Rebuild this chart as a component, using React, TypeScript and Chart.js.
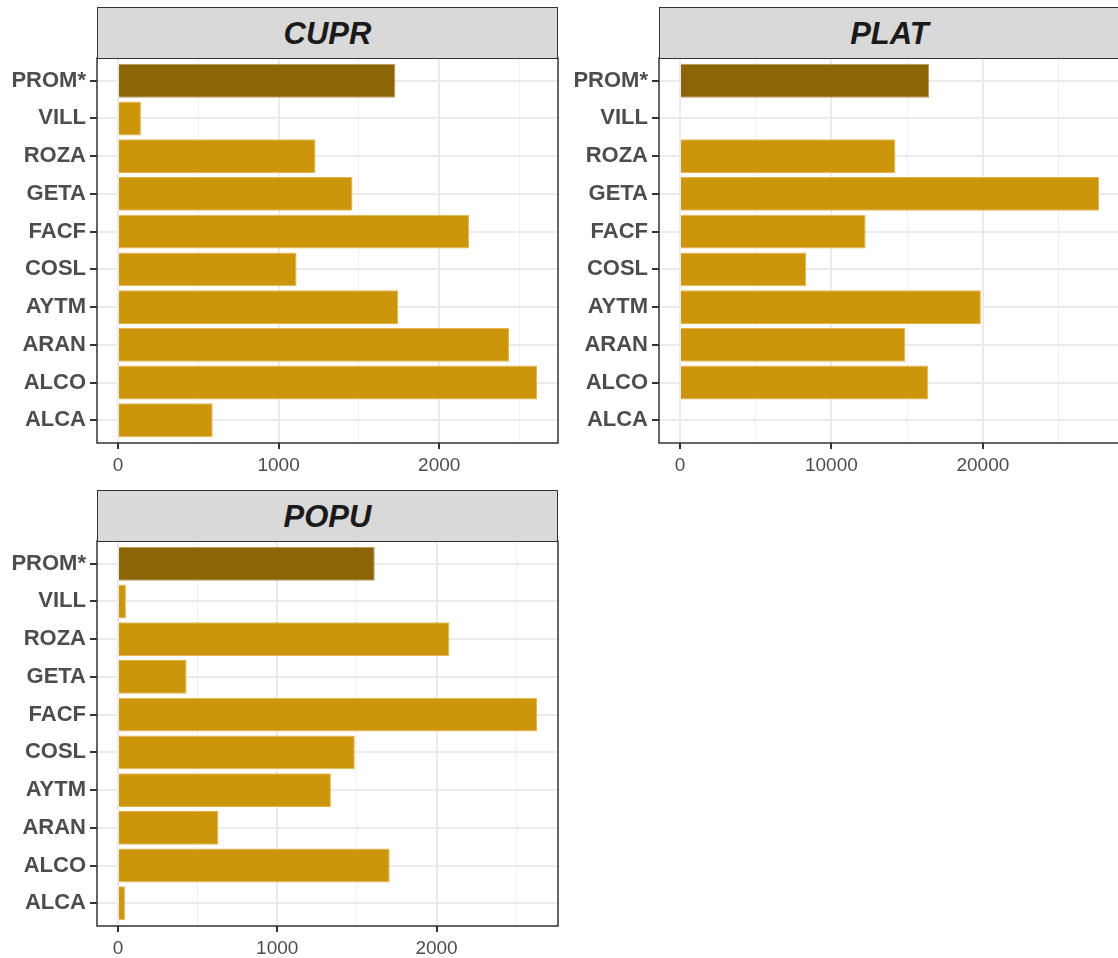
import React, { useEffect, useRef } from "react";
import { Chart, registerables } from "chart.js";

Chart.register(...registerables);

const categories = ["PROM*", "VILL", "ROZA", "GETA", "FACF", "COSL", "AYTM", "ARAN", "ALCO", "ALCA"];
const cuprValues: (number | null)[] = [1727, 143, 1230, 1460, 2186, 1112, 1745, 2435, 2609, 590];
const platValues: (number | null)[] = [16459, null, 14230, 27672, 12262, 8328, 19869, 14885, 16393, null];
const popuValues: (number | null)[] = [1612, 50, 2081, 431, 2631, 1487, 1337, 631, 1706, 44];
const cuprSteps = [500, 1000];
const platSteps = [5000, 10000];
const popuSteps = [500, 1000];

const FONT = "'Liberation Sans', Arial, Helvetica, sans-serif";
const DARK = "#8B6508";
const GOLD = "#CD950C";

const framePlugin = {
  id: "frame",
  afterDraw(chart: any) {
    const { left, top, right, bottom } = chart.chartArea;
    const ctx = chart.ctx;
    ctx.save();
    ctx.strokeStyle = "#333333";
    ctx.lineWidth = 1.5;
    ctx.strokeRect(left, top, right - left, bottom - top);
    ctx.restore();
  },
};

type PanelProps = {
  title: string;
  values: (number | null)[];
  steps: number[];
  left: number;
  top: number;
};

function Panel({ title, values, steps, left, top }: PanelProps) {
  const ref = useRef<HTMLCanvasElement | null>(null);
  useEffect(() => {
    if (!ref.current) return;
    const nums = values.filter((v) => v !== null) as number[];
    const vmax = Math.max(...nums);
    const [minor, major] = steps;
    const chart = new Chart(ref.current, {
      type: "bar",
      data: {
        datasets: [
          {
            data: values.map((v, i) => ({ x: v, y: i })) as any,
            backgroundColor: categories.map((c) => (c === "PROM*" ? DARK : GOLD)),
            borderColor: categories.map((c) => (c === "PROM*" ? "#B49A5C" : "#E2B84E")),
            borderWidth: 1,
            barPercentage: 0.9,
            categoryPercentage: 1,
          },
        ],
      },
      options: {
        indexAxis: "y",
        animation: false,
        responsive: false,
        devicePixelRatio: 1,
        layout: { padding: { top: 58, right: 4, left: 0, bottom: 0 } },
        plugins: { legend: { display: false }, tooltip: { enabled: false } },
        scales: {
          x: {
            type: "linear",
            min: -0.05 * vmax,
            max: 1.05 * vmax,
            afterBuildTicks: (axis: any) => {
              const t: any[] = [];
              for (let v = 0; v <= 1.05 * vmax; v += minor) t.push({ value: v });
              axis.ticks = t;
            },
            afterFit: (axis: any) => {
              axis.height = 36;
            },
            border: { display: false },
            grid: {
              color: (ctx: any) => (ctx.tick && ctx.tick.value % major === 0 ? "#EBEBEB" : "#F0F0F0"),
              lineWidth: (ctx: any) => (ctx.tick && ctx.tick.value % major === 0 ? 2 : 1),
              tickColor: (ctx: any) => (ctx.tick && ctx.tick.value % major === 0 ? "#333333" : "rgba(0,0,0,0)"),
              tickWidth: 2,
              tickLength: 6,
            },
            ticks: {
              autoSkip: false,
              maxRotation: 0,
              padding: 5,
              color: "#4D4D4D",
              font: { family: FONT, size: 19 },
              callback: (v: any) => (Number(v) % major === 0 ? String(v) : ""),
            },
          },
          y: {
            type: "linear",
            reverse: true,
            offset: false,
            min: -0.6,
            max: categories.length - 1 + 0.6,
            afterBuildTicks: (axis: any) => {
              axis.ticks = categories.map((_, i) => ({ value: i }));
            },
            afterFit: (axis: any) => {
              axis.width = 97;
            },
            border: { display: false },
            grid: {
              offset: false,
              color: "#EBEBEB",
              lineWidth: 2,
              tickColor: "#333333",
              tickWidth: 2,
              tickLength: 7,
            },
            ticks: {
              autoSkip: false,
              padding: 4,
              color: "#4D4D4D",
              font: { family: FONT, size: 22, weight: "bold" },
              callback: (v: any) => categories[Number(v)] ?? "",
            },
          },
        },
      },
      plugins: [framePlugin],
    } as any);
    return () => chart.destroy();
  }, [values, steps]);

  return (
    <>
      <canvas
        ref={ref}
        width={562}
        height={479}
        style={{ position: "absolute", left, top, width: 562, height: 479 }}
      />
      <div
        style={{
          position: "absolute",
          left: left + 97,
          top: top + 7,
          width: 461,
          height: 52,
          boxSizing: "border-box",
          border: "1.5px solid #333333",
          background: "#D9D9D9",
          color: "#1A1A1A",
          fontFamily: FONT,
          fontWeight: "bold",
          fontStyle: "italic",
          fontSize: 31,
          display: "flex",
          alignItems: "center",
          justifyContent: "center",
          lineHeight: 1,
        }}
      >
        {title}
      </div>
    </>
  );
}

export default function App() {
  return (
    <div
      style={{
        position: "absolute",
        left: 0,
        top: 0,
        width: 1118,
        height: 958,
        overflow: "hidden",
        background: "#FFFFFF",
      }}
    >
      <Panel title="CUPR" values={cuprValues} steps={cuprSteps} left={0} top={0} />
      <Panel title="PLAT" values={platValues} steps={platSteps} left={562} top={0} />
      <Panel title="POPU" values={popuValues} steps={popuSteps} left={0} top={483} />
    </div>
  );
}
